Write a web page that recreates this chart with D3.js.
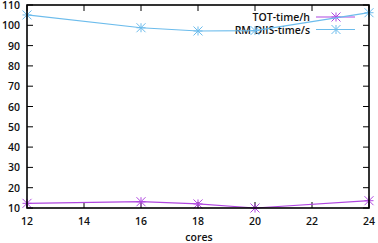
<!DOCTYPE html>
<html><head><meta charset="utf-8">
<script src="https://cdn.jsdelivr.net/npm/d3@7"></script>
<style>body{margin:0;background:#fff}svg text{font-family:"Open Sans",sans-serif;font-weight:600;fill:#111}</style>
</head><body><svg id="c" width="378" height="243"></svg>
<script>
const cores = [12, 16, 18, 20, 24];
const totTime = [12.3, 13.1, 12.0, 10.0, 13.6];
const rmDiisTime = [105.1, 98.8, 97.2, 97.4, 106.2];
const xTicks = [12, 14, 16, 18, 20, 22, 24];
const yTicks = [10, 20, 30, 40, 50, 60, 70, 80, 90, 100, 110];
const seriesNames = ["TOT-time/h", "RM-DIIS-time/s"];
const colors = ["#b048e0", "#6cbcec"];

const svg = d3.select("#c");
const L = 27, R = 369, T = 5, B = 208;
const x = d3.scaleLinear().domain([12, 24]).range([L, R]);
const y = d3.scaleLinear().domain([10, 110]).range([B, T]);

const tl = 6;
const g = svg.append("g").attr("stroke", "#000").attr("stroke-width", 1);
xTicks.forEach(v => {
  g.append("line").attr("x1", x(v)).attr("x2", x(v)).attr("y1", B).attr("y2", B - tl);
  g.append("line").attr("x1", x(v)).attr("x2", x(v)).attr("y1", T).attr("y2", T + tl);
});
yTicks.forEach(v => {
  g.append("line").attr("x1", L).attr("x2", L + tl).attr("y1", y(v)).attr("y2", y(v));
  g.append("line").attr("x1", R).attr("x2", R - tl).attr("y1", y(v)).attr("y2", y(v));
});

svg.selectAll(".xl").data(xTicks).join("text")
  .attr("x", d => x(d)).attr("y", 225).attr("text-anchor", "middle")
  .attr("font-size", 10.5).text(d => d);
svg.selectAll(".yl").data(yTicks).join("text")
  .attr("x", 20).attr("y", d => y(d) + 4).attr("text-anchor", "end")
  .attr("font-size", 10.5).text(d => d);
svg.append("text").attr("x", 199).attr("y", 241).attr("text-anchor", "middle")
  .attr("font-size", 10.5).text("cores");

const data = [totTime, rmDiisTime];
const line = d3.line().x((d, i) => x(cores[i])).y(d => y(d));

function star(sel, cx, cy, color) {
  const s = 4.5;
  const gg = sel.append("g").attr("stroke", color).attr("stroke-width", 1);
  gg.append("line").attr("x1", cx - s).attr("x2", cx + s).attr("y1", cy - s).attr("y2", cy + s);
  gg.append("line").attr("x1", cx - s).attr("x2", cx + s).attr("y1", cy + s).attr("y2", cy - s);
  gg.append("line").attr("x1", cx - s).attr("x2", cx + s).attr("y1", cy).attr("y2", cy);
  gg.append("line").attr("x1", cx).attr("x2", cx).attr("y1", cy - s).attr("y2", cy + s);
}

const legY = [17, 29.5];
seriesNames.forEach((n, i) => {
  svg.append("text").attr("x", 310).attr("y", legY[i] + 4).attr("text-anchor", "end")
    .attr("font-size", 10.5).text(n);
  svg.append("line").attr("x1", 316).attr("x2", 355).attr("y1", legY[i]).attr("y2", legY[i])
    .attr("stroke", colors[i]).attr("stroke-width", 1.2);
  star(svg, 336, legY[i], colors[i]);
});

data.forEach((arr, i) => {
  svg.append("path").datum(arr).attr("d", line).attr("fill", "none")
    .attr("stroke", colors[i]).attr("stroke-width", 1.2);
  arr.forEach((v, j) => star(svg, x(cores[j]), y(v), colors[i]));
});

svg.append("rect").attr("x", L).attr("y", T).attr("width", R - L).attr("height", B - T)
  .attr("fill", "none").attr("stroke", "#000").attr("stroke-width", 1.6);
</script></body></html>
